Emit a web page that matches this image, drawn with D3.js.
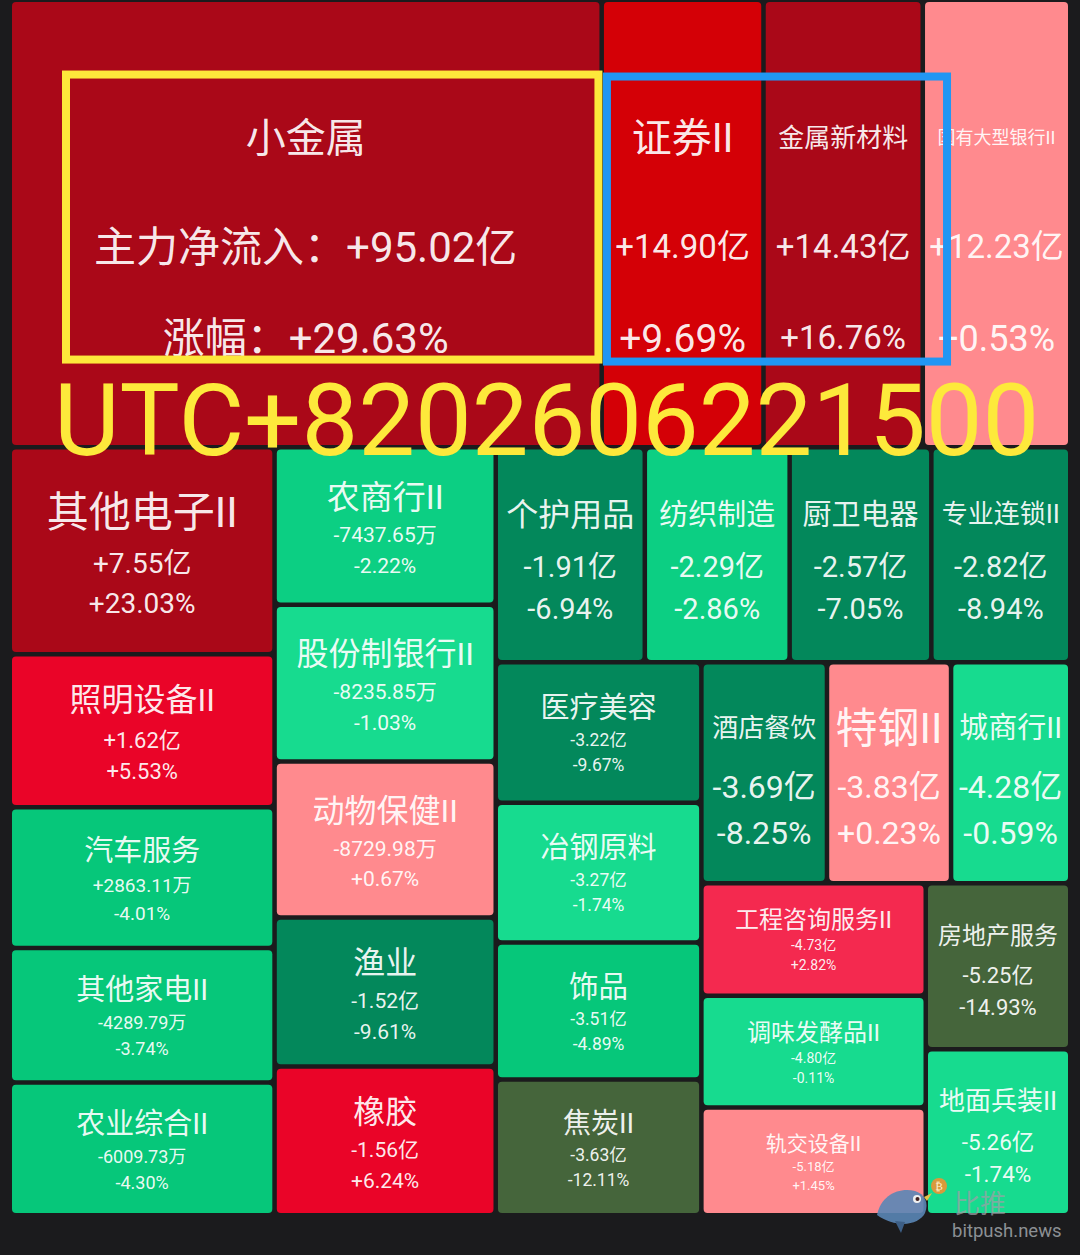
<!DOCTYPE html>
<html><head><meta charset="utf-8">
<script src="https://cdn.jsdelivr.net/npm/d3@7/dist/d3.min.js"></script>
<style>
html,body{margin:0;padding:0;background:#1b1b1d;}
svg{display:block;}
</style></head>
<body><svg id="chart" width="1080" height="1255"></svg>
<script>
// ---------------- DATA ----------------
const categories = ["小金属","证券II","金属新材料","国有大型银行II","其他电子II","照明设备II","汽车服务","其他家电II","农业综合II","农商行II","股份制银行II","动物保健II","渔业","橡胶","个护用品","纺织制造","厨卫电器","专业连锁II","医疗美容","冶钢原料","饰品","焦炭II","酒店餐饮","特钢II","城商行II","工程咨询服务II","调味发酵品II","轨交设备II","房地产服务","地面兵装II"];
// main net inflow, unit 亿元
const netInflow = [95.02, 14.90, 14.43, 12.23, 7.55, 1.62, 0.286311, -0.428979, -0.600973, -0.743765, -0.823585, -0.872998, -1.52, -1.56, -1.91, -2.29, -2.57, -2.82, -3.22, -3.27, -3.51, -3.63, -3.69, -3.83, -4.28, -4.73, -4.80, -5.18, -5.25, -5.26];
// price change, %
const changePct = [29.63, 9.69, 16.76, 0.53, 23.03, 5.53, -4.01, -3.74, -4.30, -2.22, -1.03, 0.67, -9.61, 6.24, -6.94, -2.86, -7.05, -8.94, -9.67, -1.74, -4.89, -12.11, -8.25, 0.23, -0.59, 2.82, -0.11, 1.45, -14.93, -1.74];
const flowLabel = "主力净流入：";
const pctLabel = "涨幅：";
const timestampLabel = "UTC+8202606221500";
const colorBreaks = [-10, -5, -3, -2, 0, 2, 3, 7, 12];
const colorRange = ["#45653b","#03885b","#06c77a","#0ccf83","#17db8f","#ff8a8e","#f4294f","#ea0428","#d40006","#aa0818"];

// ---------------- STYLE ----------------
// [name font, value font, pct font, spread(name->value), spread(value->pct)]
const labelStyle = {
 "小金属":[40,42,42,1.426,1.505], "证券II":[40,33,39,1.815,1.915], "金属新材料":[26,33,33,1.815,1.915], "国有大型银行II":[18,33,36,1.815,1.915],
 "其他电子II":[42,28,28], "照明设备II":[32,22,22], "汽车服务":[29,19,19], "其他家电II":[29,18,18],
 "农业综合II":[29,18,18], "农商行II":[33,21,21], "股份制银行II":[32,21,21], "动物保健II":[32,21,21],
 "渔业":[32,21,21], "橡胶":[32,21,21], "个护用品":[32,29,29], "纺织制造":[29,29,29],
 "厨卫电器":[29,29,29], "专业连锁II":[26,29,29], "医疗美容":[29,17.5,17.5], "冶钢原料":[29,17.5,17.5],
 "饰品":[29.5,17.5,17.5], "焦炭II":[28,17.5,17.5], "酒店餐饮":[26,32,32], "特钢II":[42,32,32],
 "城商行II":[29,32,32], "工程咨询服务II":[24,14,14], "调味发酵品II":[24,14,14], "轨交设备II":[21,13,13],
 "房地产服务":[24,22,22], "地面兵装II":[26,22.5,22.5]
};
const FONT = "Roboto, 'Noto Sans CJK SC', sans-serif";
const W = 1080, H = 1255;
const margin = {left: 12, top: 2, right: 12, bottom: 42};
const sizeOffset = 15.24; // tile size = net inflow + offset

const svg = d3.select("#chart");
svg.append("rect").attr("width", W).attr("height", H).attr("fill", "#1b1b1d");

const color = d3.scaleThreshold().domain(colorBreaks).range(colorRange);

const root = d3.hierarchy({children: categories.map((c, i) => ({name: c, flow: netInflow[i], pct: changePct[i]}))})
  .sum(d => d.children ? 0 : d.flow + sizeOffset);

d3.treemap()
  .tile(d3.treemapSquarify)
  .size([W - margin.left - margin.right, H - margin.top - margin.bottom])
  .paddingInner(4.5)(root);

const g = svg.append("g").attr("transform", `translate(${margin.left},${margin.top})`);

function fmtFlow(v) {
  const s = v >= 0 ? "+" : "-";
  const a = Math.abs(v);
  return a >= 1 ? s + a.toFixed(2) + "亿" : s + (Math.round(a * 1e6) / 100).toFixed(2) + "万";
}
function fmtPct(v) { return (v >= 0 ? "+" : "-") + Math.abs(v).toFixed(2) + "%"; }

const leaves = root.leaves();
leaves.forEach(d => {
  const st = labelStyle[d.data.name];
  const [f1, f2, f3] = st;
  const s1 = st[3] || 1, s2 = st[4] || 1;
  const d1 = 1.82 * f2 * s1, d2 = 1.44 * f2 * s2;
  const cy = (d.y0 + d.y1) / 2;
  const mid = cy + 0.07 * (d1 + d2);
  const top = mid - (d1 + d2) / 2;
  d.lines = {f1, f2, f3, nameY: top, valY: top + d1, pctY: top + d1 + d2};
});

const cell = g.selectAll("g.cell").data(leaves).join("g").attr("class", "cell");
cell.append("rect")
  .attr("x", d => d.x0).attr("y", d => d.y0)
  .attr("width", d => d.x1 - d.x0).attr("height", d => d.y1 - d.y0)
  .attr("rx", 4).attr("ry", 4)
  .attr("fill", d => color(d.data.pct));

const tx = d => (d.x0 + d.x1) / 2;
const wide = d => (d.x1 - d.x0) > 400;
cell.append("text")
  .attr("x", tx).attr("y", d => d.lines.nameY + 0.36 * d.lines.f1)
  .attr("font-size", d => d.lines.f1)
  .text(d => d.data.name);
cell.append("text")
  .attr("x", tx).attr("y", d => d.lines.valY + 0.36 * d.lines.f2)
  .attr("font-size", d => d.lines.f2)
  .text(d => (wide(d) ? flowLabel : "") + fmtFlow(d.data.flow));
cell.append("text")
  .attr("x", tx).attr("y", d => d.lines.pctY + 0.36 * d.lines.f3)
  .attr("font-size", d => d.lines.f3)
  .text(d => (wide(d) ? pctLabel : "") + fmtPct(d.data.pct));
cell.selectAll("text")
  .attr("text-anchor", "middle")
  .attr("font-family", FONT)
  .attr("fill", "#ffffff").attr("fill-opacity", 0.93);

// ---------------- ANNOTATIONS ----------------
const lead = leaves[0];
const yTop = lead.lines.nameY - 63, yBot = lead.lines.pctY + 22;
g.append("rect")
  .attr("x", lead.x0 + 54).attr("y", yTop)
  .attr("width", (lead.x1 - 1) - (lead.x0 + 54)).attr("height", yBot - yTop)
  .attr("fill", "none").attr("stroke", "#fde83b").attr("stroke-width", 8);
const c2 = leaves[1], c4 = leaves[3];
g.append("rect")
  .attr("x", c2.x0 + 3).attr("y", yTop + 2)
  .attr("width", (c4.x0 + 22) - (c2.x0 + 3)).attr("height", yBot - yTop)
  .attr("fill", "none").attr("stroke", "#2196f3").attr("stroke-width", 8);

g.append("text")
  .attr("x", lead.x0 + 42).attr("y", lead.y1 + 10)
  .attr("font-family", "Roboto, 'Liberation Sans', sans-serif")
  .attr("font-size", 101)
  .attr("fill", "#fde93b")
  .text(timestampLabel);

// ---------------- WATERMARK ----------------
const wm = svg.append("g").attr("transform", "translate(905,1207)");
wm.append("path")
  .attr("d", "M-28,8 C-24,-12 -6,-20 10,-16 C20,-13 24,-4 20,6 C14,18 -8,22 -28,8 Z")
  .attr("fill", "#5a86b6").attr("opacity", 0.9);
wm.append("path").attr("d", "M-10,14 L-4,26 L0,15 Z").attr("fill", "#3d5f86");
wm.append("circle").attr("cx", 12).attr("cy", -8).attr("r", 4).attr("fill", "#f0f0f0");
wm.append("circle").attr("cx", 12.5).attr("cy", -8).attr("r", 2).attr("fill", "#402020");
wm.append("path").attr("d", "M19,-10 L27,-14 L22,-6 Z").attr("fill", "#e8c34a");
wm.append("circle").attr("cx", 34).attr("cy", -21).attr("r", 8).attr("fill", "#d99a3c");
wm.append("text").attr("x", 34).attr("y", -17).attr("text-anchor", "middle")
  .attr("font-size", 11).attr("font-family", "DejaVu Sans").attr("fill", "#fff3d0").text("₿");
svg.append("text").attr("x", 954).attr("y", 1213)
  .attr("font-family", "'Noto Sans CJK SC', sans-serif").attr("font-size", 26)
  .attr("fill", "#9aa0a6").attr("fill-opacity", 0.75).text("比推");
svg.append("text").attr("x", 952).attr("y", 1237)
  .attr("font-family", "Roboto, sans-serif").attr("font-size", 18.5)
  .attr("fill", "#8c9094").text("bitpush.news");
</script>
</body></html>
